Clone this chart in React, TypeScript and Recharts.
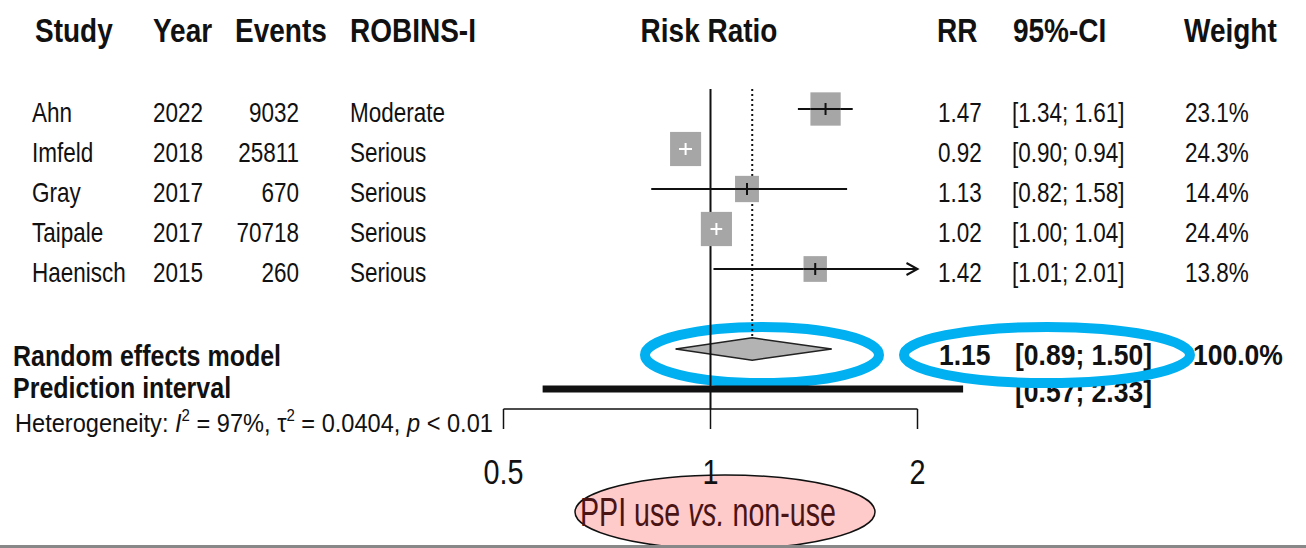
import React from 'react'
import { ComposedChart, XAxis, YAxis, Line, Area, ReferenceLine, Customized } from 'recharts'

// study table
const studies = ['Ahn', 'Imfeld', 'Gray', 'Taipale', 'Haenisch']
const years = [2022, 2018, 2017, 2017, 2015]
const events = [9032, 25811, 670, 70718, 260]
const robins = ['Moderate', 'Serious', 'Serious', 'Serious', 'Serious']
const rr = [1.47, 0.92, 1.13, 1.02, 1.42]
const ciLow = [1.34, 0.9, 0.82, 1.0, 1.01]
const ciHigh = [1.61, 0.94, 1.58, 1.04, 2.01]
const weights = [23.1, 24.3, 14.4, 24.4, 13.8]

// pooled estimate
const pooledRR = 1.15
const pooledCI = [0.89, 1.5]
const predInterval = [0.57, 2.33]
const hetI2 = '97%'
const hetTau2 = '0.0404'
const hetP = '< 0.01'

const xTicks = [0.5, 1, 2]
const headers = ['Study', 'Year', 'Events', 'ROBINS-I', 'Risk Ratio', 'RR', '95%-CI', 'Weight']

// layout
const W = 1306
const H = 548
const FONT = '"Liberation Sans", Arial, Helvetica, sans-serif'
const INK = '#111'
const PX_PER_DOUBLING = 207
const X_LEFT = 503.5
const X_MIN = 0.5
const X_MAX = 2.4
const TOP = 89
const ROW_H = 40
const AXIS_H = 40
const SQ = 6.3
const DIAMOND_H = 0.28

const summaryRow = studies.length + 1
const predRow = studies.length + 2
const nRows = predRow + 1
const axisMax = xTicks[xTicks.length - 1]
const plotRight = X_LEFT + PX_PER_DOUBLING * Math.log2(X_MAX / X_MIN)
const axisY = TOP + nRows * ROW_H
const margin = { top: TOP, left: X_LEFT, right: W - plotRight, bottom: H - axisY - AXIS_H }
const rowY = (r: number) => TOP + (r + 0.5) * ROW_H

const fmtCI = (lo: number, hi: number) => `[${lo.toFixed(2)}; ${hi.toFixed(2)}]`
const totalWeight = weights.reduce((a, b) => a + b, 0)

// CI drawn white when it fits inside its square (as meta::forest does)
const ciInside = (i: number) =>
  PX_PER_DOUBLING * Math.log2(ciHigh[i] / ciLow[i]) < SQ * Math.sqrt(weights[i])

const diamondData = [
  { x: pooledCI[0], y: [summaryRow, summaryRow] },
  { x: pooledRR, y: [summaryRow - DIAMOND_H, summaryRow + DIAMOND_H] },
  { x: pooledCI[1], y: [summaryRow, summaryRow] },
]
const predData = [
  { x: predInterval[0], y: predRow },
  { x: predInterval[1], y: predRow },
]

function T({ x, y, anchor = 'start', size = 22.5, bold = false, sy = 1.22, fill = INK, children }: any) {
  return (
    <text
      transform={`translate(${x},${y}) scale(1,${sy})`}
      textAnchor={anchor}
      fontSize={size}
      fontWeight={bold ? 700 : 400}
      fontFamily={FONT}
      fill={fill}
    >
      {children}
    </text>
  )
}

const headerX = [35, 153, 235, 350, 709, 937, 1013, 1184]

function Overlay() {
  return (
    <g>
      {headers.map((h, i) => (
        <T key={h} x={headerX[i]} y={42} size={28} bold sy={1.2} anchor={h === 'Risk Ratio' ? 'middle' : 'start'}>
          {h}
        </T>
      ))}
      {studies.map((s, i) => {
        const y = rowY(i) + 13
        return (
          <g key={s}>
            <T x={32} y={y}>{s}</T>
            <T x={153} y={y}>{years[i]}</T>
            <T x={299} y={y} anchor="end">{events[i]}</T>
            <T x={350} y={y}>{robins[i]}</T>
            <T x={938} y={y}>{rr[i].toFixed(2)}</T>
            <T x={1012} y={y}>{fmtCI(ciLow[i], ciHigh[i])}</T>
            <T x={1185} y={y}>{weights[i].toFixed(1)}%</T>
          </g>
        )
      })}
      <T x={13} y={366} size={25} bold sy={1.2}>Random effects model</T>
      <T x={13} y={398} size={25} bold sy={1.2}>Prediction interval</T>
      <T x={939} y={365} size={26.5} bold sy={1.08}>{pooledRR.toFixed(2)}</T>
      <T x={1015} y={365} size={26.5} bold sy={1.08}>{fmtCI(pooledCI[0], pooledCI[1])}</T>
      <T x={1193} y={365} size={26.5} bold sy={1.08}>{totalWeight.toFixed(1)}%</T>
      <T x={1015} y={402} size={26.5} bold sy={1.08}>{fmtCI(predInterval[0], predInterval[1])}</T>
      <T x={15} y={432} size={23.6} sy={1.13}>
        Heterogeneity: <tspan fontStyle="italic">I</tspan>
        <tspan fontSize={15} dy={-10}>2</tspan>
        <tspan dy={10}> = {hetI2}, τ</tspan>
        <tspan fontSize={15} dy={-10}>2</tspan>
        <tspan dy={10}> = {hetTau2}, </tspan>
        <tspan fontStyle="italic">p</tspan> {hetP}
      </T>

      {/* annotations */}
      <ellipse cx={762} cy={355} rx={117} ry={28} fill="none" stroke="#00b0f0" strokeWidth={10} />
      <ellipse cx={1047} cy={355} rx={143} ry={28} fill="none" stroke="#00b0f0" strokeWidth={10} />
      <ellipse cx={725} cy={512} rx={150} ry={37} fill="#ff9e9e" fillOpacity={0.55} stroke={INK} strokeWidth={1.5} />
      <T x={580} y={526} size={28.6} sy={1.42} fill="#4a1414">
        PPI use <tspan fontStyle="italic">vs.</tspan> non-use
      </T>
      <line x1={0} x2={W} y1={546.5} y2={546.5} stroke="#888" strokeWidth={3} />
    </g>
  )
}

const renderTick = (p: any) => (
  <text
    key={p.index}
    transform={`translate(${p.x},${axisY + 75}) scale(1,1.21)`}
    textAnchor="middle"
    fontSize={28.8}
    fontFamily={FONT}
    fill={INK}
  >
    {p.payload.value}
  </text>
)

// one study: square, CI segment on top of it, estimate tick, arrow if CI is cut at the axis end
const studyDot = (i: number, clipped: boolean) => (p: any) => {
  const pts = p.points
  if (p.index === 1) {
    const s = SQ * Math.sqrt(weights[i])
    const inside = ciInside(i)
    const col = inside ? '#fff' : INK
    const x1 = pts ? (inside ? pts[0].x : Math.max(pts[0].x, p.cx - s / 2)) : p.cx
    const x2 = pts ? (inside ? pts[2].x : Math.min(pts[2].x, p.cx + s / 2)) : p.cx
    return (
      <g key={`st${i}`}>
        <rect x={p.cx - s / 2} y={p.cy - s * 0.55} width={s} height={s * 1.1} fill="#a6a6a6" />
        <line x1={x1} x2={x2} y1={p.cy} y2={p.cy} stroke={col} strokeWidth={2} />
        <line x1={p.cx} x2={p.cx} y1={p.cy - 6} y2={p.cy + 6} stroke={col} strokeWidth={2} />
      </g>
    )
  }
  if (p.index === 2 && clipped) {
    return (
      <path
        key={`ar${i}`}
        d={`M${p.cx - 11},${p.cy - 6} L${p.cx},${p.cy} L${p.cx - 11},${p.cy + 6}`}
        stroke={INK}
        strokeWidth={2}
        fill="none"
      />
    )
  }
  return <g key={`nd${i}${p.index}`} />
}

export default function App() {
  return (
    <div style={{ position: 'absolute', left: 0, top: 0, background: '#fff' }}>
      <ComposedChart width={W} height={H} margin={margin} style={{ fontFamily: FONT }}>
        <XAxis
          type="number"
          dataKey="x"
          scale="log"
          domain={[X_MIN, X_MAX]}
          allowDataOverflow
          ticks={xTicks}
          interval={0}
          height={AXIS_H}
          axisLine={false}
          tickLine={{ stroke: INK, strokeWidth: 1.5 }}
          tickSize={20}
          tick={renderTick}
        />
        <YAxis type="number" dataKey="y" domain={[-0.5, nRows - 0.5]} reversed hide />

        <Area
          data={diamondData}
          dataKey="y"
          type="linear"
          fill="#b3b3b3"
          fillOpacity={1}
          stroke="#222"
          strokeWidth={1.5}
          isAnimationActive={false}
        />
        <ReferenceLine x={1} stroke={INK} strokeWidth={2} />
        <ReferenceLine
          segment={[{ x: pooledRR, y: -0.5 }, { x: pooledRR, y: summaryRow - DIAMOND_H }]}
          stroke={INK}
          strokeWidth={2}
          strokeDasharray="2 3"
          ifOverflow="visible"
        />
        <ReferenceLine
          segment={[{ x: X_MIN, y: nRows - 0.5 }, { x: axisMax, y: nRows - 0.5 }]}
          stroke={INK}
          strokeWidth={1.5}
          ifOverflow="visible"
        />

        {studies.map((s, i) => {
          const clipped = ciHigh[i] > axisMax
          const data = [
            { x: ciLow[i], y: i },
            { x: rr[i], y: i },
            { x: Math.min(ciHigh[i], axisMax), y: i },
          ]
          return (
            <Line
              key={s}
              data={data}
              dataKey="y"
              stroke={INK}
              strokeWidth={2}
              activeDot={false}
              isAnimationActive={false}
              dot={studyDot(i, clipped)}
            />
          )
        })}
        <Line data={predData} dataKey="y" stroke={INK} strokeWidth={7} dot={false} activeDot={false} isAnimationActive={false} />

        <Customized component={Overlay} />
      </ComposedChart>
    </div>
  )
}
